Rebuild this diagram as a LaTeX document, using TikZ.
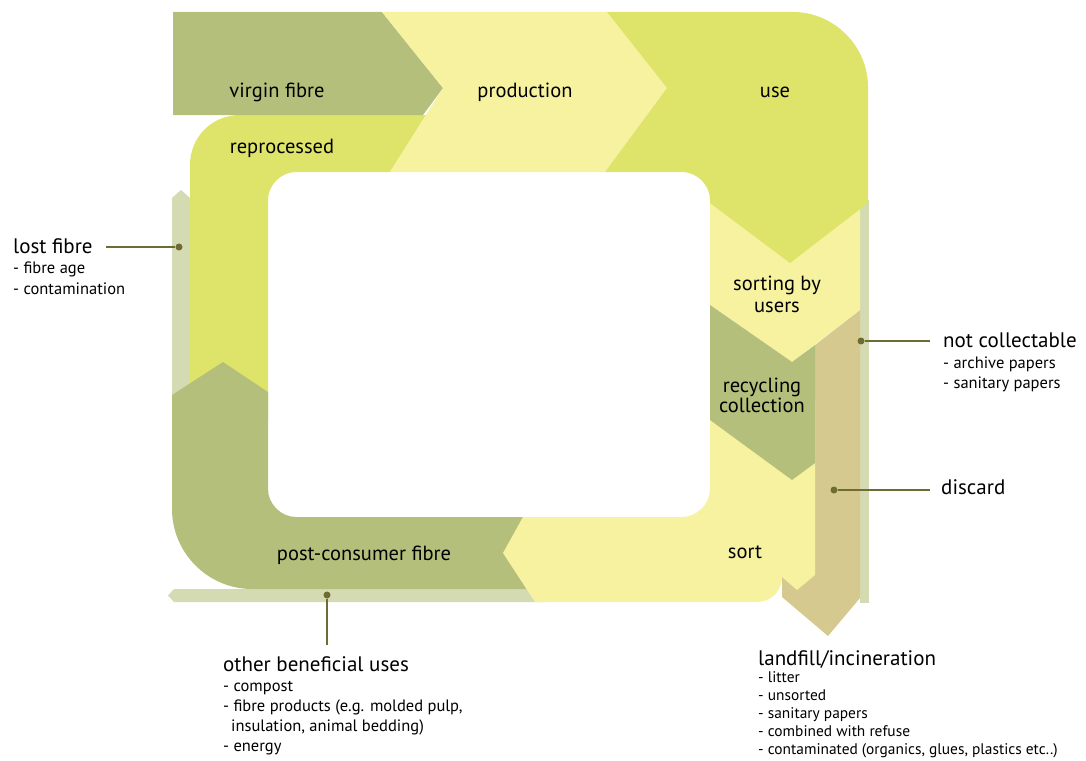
\documentclass[tikz,border=0pt]{standalone}
\usepackage{fontspec}
\setmainfont{PT Sans}
\usetikzlibrary{positioning}
\definecolor{fibreolive}{RGB}{181,191,124}
\definecolor{fibrepale}{RGB}{246,242,160}
\definecolor{fibrelime}{RGB}{222,228,106}
\definecolor{fibreloss}{RGB}{212,219,178}
\definecolor{fibretan}{RGB}{214,201,143}
\definecolor{leadcol}{RGB}{110,108,50}

\begin{document}
\begin{tikzpicture}[x=1pt,y=-1pt]
\tikzset{stage/.style={font=\fontsize{20.5}{22}\selectfont, align=center, inner sep=0pt}}
\tikzset{head/.style={font=\fontsize{21}{23}\selectfont, anchor=base west, inner sep=0pt}}
\tikzset{items/.style={font=\fontsize{16.5}{20}\selectfont, align=left, inner sep=0pt}}
\tikzset{leader/.style={draw=leadcol, line width=2pt}}
\tikzset{dot/.style={circle, fill=leadcol, inner sep=0pt, minimum size=7pt}}
\useasboundingbox (0,0) rectangle (1086,760);

% side streams
\fill[fibreloss] (172,420) -- (172,198) -- (181,190) -- (190,198) -- (190,420) -- cycle;
\fill[fibreloss] (545,589) -- (545,602) -- (174,602) -- (168,595.5) -- (174,589) -- cycle;
\fill[fibreloss] (860,200) -- (869,200) -- (869,603) -- (860,603) -- cycle;
\fill[fibretan] (815,345) -- (860,310) -- (860,598) -- (828,636) -- (782,597) -- (782,560) -- (815,560) -- cycle;

% main loop
\fill[fibrelime] (190,420) -- (190,165) .. controls (190,137) and (212,115) .. (240,115) -- (426,115) -- (390,172) -- (296,172) .. controls (281,172) and (268,185) .. (268,200) -- (268,420) -- cycle;
\fill[fibreolive] (172,395) -- (223,362) -- (268,392) -- (268,489) .. controls (268,504) and (281,517) .. (296,517) -- (530,517) -- (530,589) -- (252,589) .. controls (208,589) and (172,553) .. (172,509) -- cycle;
\fill[fibreolive] (173,12) -- (382,12) -- (443,88) -- (423,115) -- (173,115) -- cycle;
\fill[fibrepale] (382,12) -- (607,12) -- (667,88) -- (605,172) -- (390,172) -- (443,88) -- cycle;
\fill[fibrepale] (710,195) -- (860,195) -- (860,310) -- (792,362) -- (710,305) -- cycle;
\fill[fibrelime] (607,12) -- (793,12) .. controls (834,12) and (868,46) .. (868,87) -- (868,203) -- (790,263) -- (710,203) -- (710,200) .. controls (710,185) and (697,172) .. (682,172) -- (605,172) -- (667,88) -- cycle;
\fill[fibrepale] (710,400) -- (815,400) -- (815,575) -- (797,590) -- (782,577) .. controls (782,591) and (771,602) .. (757,602) -- (535,602) -- (503,553) -- (523,517) -- (682,517) .. controls (697,517) and (710,504) .. (710,489) -- cycle;
\fill[fibreolive] (710,305) -- (792,362) -- (815,345) -- (815,463) -- (792,480) -- (710,420) -- cycle;

% stage labels
\node[stage, anchor=base] (virgin) at (277,97) {virgin fibre};
\node[stage, anchor=base] (production) at (525,97) {production};
\node[stage, anchor=base] (use) at (775,97) {use};
\node[stage, anchor=base] (reprocessed) at (282,153) {reprocessed};
\node[stage] (sorting) at (777,294) {sorting by\\ users};
\node[stage] (recycling) at (762,395) {recycling\\[-2pt] collection};
\node[stage, anchor=base] (sort) at (745,558) {sort};
\node[stage, anchor=base] (postconsumer) at (364,560) {post-consumer fibre};

% outflows
\node[head] (lost) at (13,253) {lost fibre};
\node[items, below=8pt of lost.south west, anchor=north west] (lostitems) {- fibre age\\[1pt] - contamination};
\node[head] (notcoll) at (943,347) {not collectable};
\node[items, below=9pt of notcoll.south west, anchor=north west] (notcollitems) {- archive papers\\ - sanitary papers};
\node[head] (discard) at (941,494) {discard};
\node[head] (other) at (223,671) {other beneficial uses};
\node[items, below=10pt of other.south west, anchor=north west] (otheritems) {- compost\\ - fibre products (e.g. molded pulp,\\ \hspace*{8pt}insulation, animal bedding)\\ - energy};
\node[head] (landfill) at (758,665) {landfill/incineration};
\node[items, below=3pt of landfill.south west, anchor=north west, font=\fontsize{15.4}{18}\selectfont] (landfillitems) {- litter\\ - unsorted\\ - sanitary papers\\ - combined with refuse\\ - contaminated (organics, glues, plastics etc..)};

\node[dot] (lostdot) at (179,247) {};
\node[dot] (notcolldot) at (861,341) {};
\node[dot] (discarddot) at (834,490) {};
\node[dot] (otherdot) at (327,595) {};
\draw[leader, shorten >=13pt] (lostdot) -- (lostdot -| lost.east);
\draw[leader, shorten >=13pt] (notcolldot) -- (notcolldot -| notcoll.west);
\draw[leader, shorten >=11pt] (discarddot) -- (discarddot -| discard.west);
\draw[leader, shorten >=11pt] (otherdot) -- (otherdot |- other.north);
\end{tikzpicture}
\end{document}
